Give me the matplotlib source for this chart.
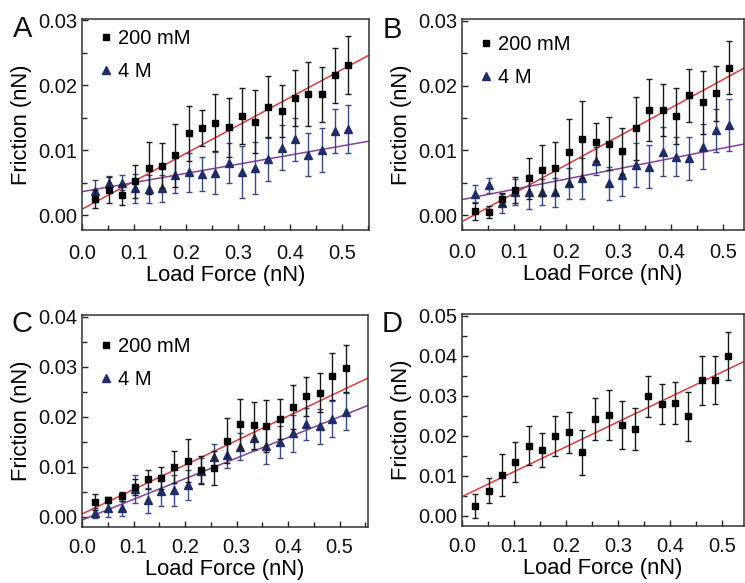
import matplotlib
matplotlib.use("Agg")
import matplotlib.pyplot as plt
from matplotlib.ticker import MultipleLocator, FormatStrFormatter

plt.rcParams['font.family'] = ['Liberation Sans', 'DejaVu Sans']

# ---------------- data ----------------
load = [0.025, 0.051, 0.077, 0.102, 0.128, 0.154, 0.179, 0.205, 0.230, 0.256,
        0.282, 0.307, 0.333, 0.358, 0.384, 0.410, 0.435, 0.461, 0.486, 0.512]

# Panel A
a_200 = [0.0025, 0.0039, 0.0031, 0.0052, 0.0072, 0.0076, 0.0092, 0.0126, 0.0134, 0.0142,
         0.0135, 0.0153, 0.0144, 0.0167, 0.0161, 0.0180, 0.0186, 0.0186, 0.0215, 0.0231]
a_200_err = [0.0014, 0.0020, 0.0015, 0.0025, 0.0040, 0.0035, 0.0048, 0.0042, 0.0028, 0.0044,
             0.0045, 0.0043, 0.0048, 0.0047, 0.0040, 0.0043, 0.0049, 0.0042, 0.0043, 0.0045]
a_4m = [0.0037, 0.0049, 0.0050, 0.0041, 0.0040, 0.0041, 0.0061, 0.0066, 0.0063, 0.0065,
        0.0080, 0.0066, 0.0072, 0.0086, 0.0104, 0.0117, 0.0093, 0.0100, 0.0129, 0.0133]
a_4m_err = [0.0017, 0.0011, 0.0011, 0.0022, 0.0022, 0.0021, 0.0027, 0.0030, 0.0026, 0.0032,
            0.0031, 0.0040, 0.0040, 0.0033, 0.0035, 0.0033, 0.0033, 0.0034, 0.0034, 0.0037]
a_fit_200 = (0.0430, 0.0009)   # slope, intercept
a_fit_4m = (0.0141, 0.0036)

# Panel B
b_200 = [0.0006, 0.0005, 0.0025, 0.0039, 0.0057, 0.0069, 0.0073, 0.0097, 0.0117, 0.0113,
         0.0110, 0.0099, 0.0134, 0.0163, 0.0163, 0.0153, 0.0185, 0.0174, 0.0188, 0.0228]
b_200_err = [0.0013, 0.0009, 0.0009, 0.0020, 0.0032, 0.0040, 0.0040, 0.0051, 0.0059, 0.0030,
             0.0041, 0.0035, 0.0049, 0.0048, 0.0040, 0.0043, 0.0041, 0.0048, 0.0043, 0.0041]
b_4m = [0.0033, 0.0046, 0.0018, 0.0036, 0.0036, 0.0036, 0.0035, 0.0049, 0.0057, 0.0084,
        0.0049, 0.0062, 0.0077, 0.0075, 0.0098, 0.0090, 0.0088, 0.0106, 0.0131, 0.0139]
b_4m_err = [0.0013, 0.0012, 0.0015, 0.0020, 0.0026, 0.0020, 0.0022, 0.0024, 0.0032, 0.0022,
            0.0026, 0.0033, 0.0034, 0.0033, 0.0038, 0.0030, 0.0033, 0.0034, 0.0033, 0.0040]
b_fit_200 = (0.0439, -0.0010)
b_fit_4m = (0.0159, 0.0024)

# Panel C
c_200 = [0.0029, 0.0033, 0.0041, 0.0060, 0.0075, 0.0077, 0.0099, 0.0112, 0.0093, 0.0097,
         0.0152, 0.0185, 0.0183, 0.0182, 0.0195, 0.0220, 0.0241, 0.0248, 0.0281, 0.0297]
c_200_err = [0.0016, 0.0006, 0.0009, 0.0016, 0.0019, 0.0022, 0.0032, 0.0043, 0.0028, 0.0034,
             0.0045, 0.0050, 0.0047, 0.0052, 0.0040, 0.0044, 0.0039, 0.0039, 0.0047, 0.0047]
c_4m = [0.0008, 0.0017, 0.0017, 0.0055, 0.0033, 0.0052, 0.0053, 0.0063, 0.0092, 0.0120,
        0.0123, 0.0140, 0.0157, 0.0141, 0.0149, 0.0167, 0.0185, 0.0181, 0.0195, 0.0210]
c_4m_err = [0.0010, 0.0017, 0.0015, 0.0028, 0.0025, 0.0031, 0.0031, 0.0030, 0.0025, 0.0026,
            0.0025, 0.0027, 0.0023, 0.0036, 0.0032, 0.0037, 0.0032, 0.0035, 0.0036, 0.0037]
c_fit_200 = (0.0490, 0.0005)
c_fit_4m = (0.0413, -0.0007)

# Panel D
d_200 = [0.0024, 0.0062, 0.0102, 0.0133, 0.0175, 0.0164, 0.0198, 0.0208, 0.0158, 0.0241,
         0.0252, 0.0227, 0.0216, 0.0298, 0.0279, 0.0281, 0.0248, 0.0338, 0.0339, 0.0399]
d_200_err = [0.0030, 0.0031, 0.0052, 0.0050, 0.0048, 0.0042, 0.0050, 0.0052, 0.0056, 0.0053,
             0.0062, 0.0060, 0.0052, 0.0052, 0.0051, 0.0053, 0.0062, 0.0062, 0.0061, 0.0060]
d_fit_200 = (0.0623, 0.00475)

series_labels = ['200 mM', '4 M']
panel_letters = ['A', 'B', 'C', 'D']

# ---------------- styling ----------------
BLACK = '#000000'
BLACK_ERR = '#1a1a1a'
BLUE = '#1f2d6b'
BLUE_ERR = '#3a4b85'
RED = '#e03a3a'
PURPLE = '#8a3d9c'

W, H = 745, 583
fig = plt.figure(figsize=(W / 100, H / 100), dpi=100)


def px_axes(left, top, right, bottom):
    return fig.add_axes([left / W, 1 - bottom / H, (right - left) / W, (bottom - top) / H])


axA = px_axes(82, 19, 369, 230)
axB = px_axes(462, 19, 744, 230)
axC = px_axes(82, 315, 368, 527)
axD = px_axes(462, 314, 744, 526)

panels = [
    dict(ax=axA, ylim=(-0.0023, 0.0302), xmax=0.552,
         s1=(a_200, a_200_err, a_fit_200), s2=(a_4m, a_4m_err, a_fit_4m),
         leg=(0.062, 0.952), letter=(23, 37), xpad=10),
    dict(ax=axB, ylim=(-0.0023, 0.0303), xmax=0.540,
         s1=(b_200, b_200_err, b_fit_200), s2=(b_4m, b_4m_err, b_fit_4m),
         leg=(0.062, 0.925), letter=(392, 38), xpad=9),
    dict(ax=axC, ylim=(-0.0021, 0.0403), xmax=0.555,
         s1=(c_200, c_200_err, c_fit_200), s2=(c_4m, c_4m_err, c_fit_4m),
         leg=(0.062, 0.895), letter=(22, 332), xpad=8),
    dict(ax=axD, ylim=(-0.0026, 0.0504), xmax=0.542,
         s1=(d_200, d_200_err, d_fit_200), s2=None,
         leg=None, letter=(392, 332), xpad=8),
]

for i, p in enumerate(panels):
    ax = p['ax']
    xmax = p['xmax']
    y1, e1, f1 = p['s1']
    ax.plot([0, xmax], [f1[1], f1[1] + f1[0] * xmax], color=RED, lw=1.1, zorder=2)
    h2 = None
    if p['s2'] is not None:
        y2, e2, f2 = p['s2']
        ax.plot([0, xmax], [f2[1], f2[1] + f2[0] * xmax], color=PURPLE, lw=1.1, zorder=2)
        h2 = ax.errorbar(load, y2, yerr=e2, fmt='^', ms=5.4, color=BLUE, mec=BLUE,
                         ecolor=BLUE_ERR, elinewidth=1.0, capsize=2.2, capthick=1.0,
                         zorder=3)
    h1 = ax.errorbar(load, y1, yerr=e1, fmt='s', ms=4.0, color=BLACK, mec=BLACK,
                     ecolor=BLACK_ERR, elinewidth=1.0, capsize=2.2, capthick=1.0,
                     zorder=4)

    ax.set_xlim(0, xmax)
    ax.set_ylim(*p['ylim'])
    ax.xaxis.set_major_locator(MultipleLocator(0.1))
    ax.xaxis.set_minor_locator(MultipleLocator(0.05))
    ax.yaxis.set_major_locator(MultipleLocator(0.01))
    ax.yaxis.set_minor_locator(MultipleLocator(0.005))
    ax.xaxis.set_major_formatter(FormatStrFormatter('%.1f'))
    ax.yaxis.set_major_formatter(FormatStrFormatter('%.2f'))
    ax.tick_params(which='both', direction='in', top=False, right=False,
                   colors='#222222', labelcolor='#111111', width=1.0)
    ax.tick_params(which='major', length=4.5, labelsize=14.5)
    ax.tick_params(which='minor', length=3.5)
    ax.tick_params(axis='x', which='major', pad=p['xpad'])
    ax.tick_params(axis='y', which='major', pad=3.5)
    for s in ax.spines.values():
        s.set_linewidth(1.1)
        s.set_color('#333333')
    ax.set_xlabel('Load Force (nN)', fontsize=15.8, labelpad=1.5)
    ax.set_ylabel('Friction (nN)', fontsize=15.8, labelpad=4)

    if p['leg'] is not None and h2 is not None:
        ax.legend([h1[0], h2[0]], series_labels, loc='upper left',
                  bbox_to_anchor=p['leg'], frameon=False,
                  fontsize=14.5, handlelength=0.6, handletextpad=0.3,
                  labelspacing=0.7, borderpad=0, borderaxespad=0, numpoints=1)

    lx, ly = p['letter']
    fig.text(lx / W, 1 - ly / H, panel_letters[i], fontsize=21, ha='center',
             va='baseline', color='#111111')

fig.savefig('out.png', dpi=100)
